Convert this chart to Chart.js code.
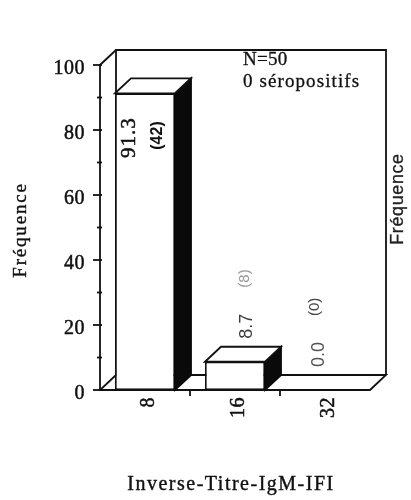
<!DOCTYPE html>
<html>
<head>
<meta charset="utf-8">
<script src="https://cdn.jsdelivr.net/npm/chart.js@4.4.0/dist/chart.umd.min.js"></script>
<style>
    body { margin: 0; background: #fff; }
    #wrap { width: 411px; height: 500px; }
</style>
</head>
<body>
<div id="wrap"><canvas id="titreChart" width="411" height="500"></canvas></div>
<script>
// Inverse IgM titres (IFI) and their frequencies
const titres = ['8', '16', '32'];
const frequences = [91.3, 8.7, 0.0];
const effectifs = [42, 8, 0];
const yTicks = [0, 20, 40, 60, 80, 100];
const yMinorStep = 10;

const SERIF = '"Liberation Serif", "Times New Roman", serif';
const SANS = '"Liberation Sans", Arial, sans-serif';

// depth of the pseudo 3D box
const DX = 16;
const DY = -15;

function line(ctx, pts) {
    ctx.beginPath();
    ctx.moveTo(pts[0][0], pts[0][1]);
    for (let i = 1; i < pts.length; i++) ctx.lineTo(pts[i][0], pts[i][1]);
    ctx.stroke();
}

function poly(ctx, pts, fill, stroke) {
    ctx.beginPath();
    ctx.moveTo(pts[0][0], pts[0][1]);
    for (let i = 1; i < pts.length; i++) ctx.lineTo(pts[i][0], pts[i][1]);
    ctx.closePath();
    if (fill) { ctx.fillStyle = fill; ctx.fill(); }
    if (stroke) { ctx.strokeStyle = stroke; ctx.stroke(); }
}

// text helper: optional rotation (reads bottom to top) and a thin outline to make it heavier
function text(ctx, str, x, y, opts) {
    ctx.save();
    ctx.translate(x, y);
    if (opts.rotate) ctx.rotate(-Math.PI / 2);
    ctx.font = opts.font;
    ctx.fillStyle = opts.color || '#111';
    ctx.textAlign = opts.align || 'left';
    ctx.textBaseline = opts.baseline || 'middle';
    if ('letterSpacing' in ctx) ctx.letterSpacing = (opts.spacing || 0) + 'px';
    ctx.fillText(str, 0, 0);
    if (opts.heavy) {
        ctx.strokeStyle = opts.color || '#111';
        ctx.lineWidth = opts.heavy;
        ctx.strokeText(str, 0, 0);
    }
    ctx.restore();
}

const box3d = {
    id: 'box3d',
    beforeDatasetsDraw(chart) {
        const { ctx, chartArea: a, scales: { x, y } } = chart;
        const y0 = y.getPixelForValue(0);
        const yTop = y.getPixelForValue(100);
        ctx.save();
        ctx.lineWidth = 1.8;
        ctx.strokeStyle = '#111';
        ctx.lineJoin = 'miter';

        // back wall
        line(ctx, [[a.left + DX, y0 + DY], [a.left + DX, yTop + DY], [a.right + DX, yTop + DY], [a.right + DX, y0 + DY]]);
        // floor
        poly(ctx, [[a.left, y0], [a.right, y0], [a.right + DX, y0 + DY], [a.left + DX, y0 + DY]], '#fff', '#111');
        // y axis with its top bevel
        line(ctx, [[a.left, y0], [a.left, yTop], [a.left + DX, yTop + DY]]);

        // y ticks, minor every 10
        for (let v = 0; v <= 100; v += yMinorStep) {
            const py = y.getPixelForValue(v);
            const major = yTicks.includes(v);
            line(ctx, [[a.left - (major ? 7 : 3), py], [a.left + 2, py]]);
        }
        yTicks.forEach(v => {
            text(ctx, String(v), 85, y.getPixelForValue(v) + 4, { font: '20px ' + SERIF, align: 'right', spacing: 0.5, heavy: 0.5 });
        });

        // x ticks between categories
        for (let i = 1; i < titres.length; i++) {
            const bx = (x.getPixelForValue(i - 1) + x.getPixelForValue(i)) / 2;
            line(ctx, [[bx, y0], [bx, y0 + 6]]);
        }
        titres.forEach((t, i) => {
            text(ctx, t, x.getPixelForValue(i) + 4, y0 + 7, { font: '20px ' + SERIF, align: 'right', rotate: true, spacing: 0.5, heavy: 0.5 });
        });
        ctx.restore();
    },
    afterDatasetsDraw(chart) {
        const { ctx, scales: { y } } = chart;
        const meta = chart.getDatasetMeta(0);
        ctx.save();
        ctx.lineWidth = 1.8;
        ctx.lineJoin = 'miter';

        meta.data.forEach((bar, i) => {
            const { x: cx, y: ty, base, width } = bar.getProps(['x', 'y', 'base', 'width'], true);
            const x0 = cx - width / 2;
            const x1 = cx + width / 2;
            if (frequences[i] > 0) {
                // dark side face
                poly(ctx, [[x1, ty], [x1 + DX, ty + DY], [x1 + DX, base + DY], [x1, base]], '#0a0a0a', '#0a0a0a');
                // top face
                poly(ctx, [[x0, ty], [x0 + DX, ty + DY], [x1 + DX, ty + DY], [x1, ty]], '#fff', '#111');
            }
        });

        // value and count labels, rotated
        const valNudge = [-16, 12, -6];
        const cntNudge = [13, 10, -10];
        meta.data.forEach((bar, i) => {
            const { x: cx, y: ty } = bar.getProps(['x', 'y'], true);
            const val = frequences[i].toFixed(1);
            const cnt = '(' + effectifs[i] + ')';
            const tall = (y.getPixelForValue(0) - ty) > 80;
            if (tall) {
                text(ctx, val, cx + valNudge[i], ty + 24, { font: '21px ' + SERIF, align: 'right', rotate: true, spacing: 1, heavy: 0.5 });
                text(ctx, cnt, cx + cntNudge[i], ty + 28, { font: 'bold 16px ' + SANS, align: 'right', rotate: true });
            } else {
                ctx.font = '18px ' + SANS;
                const w = ctx.measureText(val).width;
                const vy = ty - 23;
                text(ctx, val, cx + valNudge[i], vy, { font: '18px ' + SANS, align: 'left', rotate: true, color: i === 1 ? '#3a3a3a' : '#555' });
                text(ctx, cnt, cx + cntNudge[i], vy - w - 26, { font: '15px ' + SANS, align: 'left', rotate: true, color: i === 1 ? '#9a9a9a' : '#444' });
            }
        });

        // axis titles and the inset note
        text(ctx, 'Fréquence', 21, 230, { font: '19px ' + SERIF, align: 'center', rotate: true, spacing: 1.8, heavy: 0.4 });
        text(ctx, 'Fréquence', 398, 199, { font: '18px ' + SANS, align: 'center', rotate: true, spacing: 0.6, color: '#222', heavy: 0.3 });
        text(ctx, 'Inverse-Titre-IgM-IFI', 231, 490, { font: '20px ' + SERIF, align: 'center', baseline: 'alphabetic', spacing: 1.5, heavy: 0.4 });
        text(ctx, 'N=50', 243, 65, { font: '19px ' + SERIF, baseline: 'alphabetic', spacing: 0.3, heavy: 0.3 });
        text(ctx, '0 séropositifs', 243, 87, { font: '19px ' + SERIF, baseline: 'alphabetic', spacing: 1.1, heavy: 0.3 });
        ctx.restore();
    }
};

new Chart(document.getElementById('titreChart'), {
    type: 'bar',
    data: {
        labels: titres,
        datasets: [{
            data: frequences,
            backgroundColor: '#fff',
            borderColor: '#111',
            borderWidth: 1.8,
            borderSkipped: false,
            barPercentage: 0.667,
            categoryPercentage: 1
        }]
    },
    options: {
        responsive: false,
        animation: false,
        layout: { padding: { left: 100, top: 65, right: 41, bottom: 110 } },
        plugins: {
            legend: { display: false },
            tooltip: { enabled: false }
        },
        scales: {
            x: { display: false, offset: true },
            y: { display: false, min: 0, max: 100 }
        }
    },
    plugins: [box3d]
});
</script>
</body>
</html>
